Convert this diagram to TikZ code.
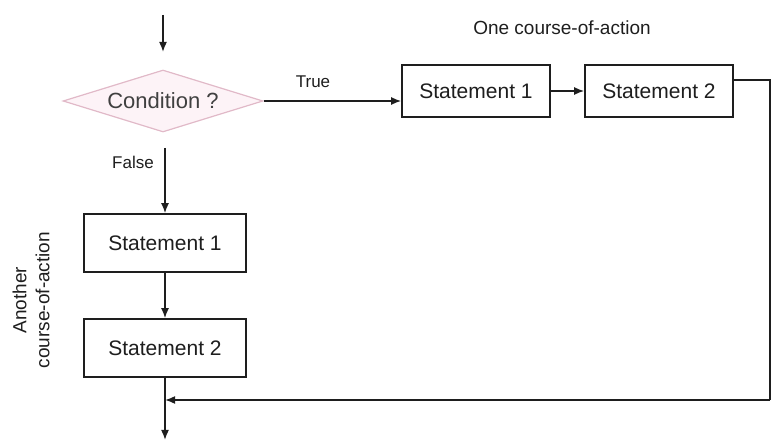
\documentclass[tikz,border=0pt]{standalone}
\usepackage{fontspec}
\setmainfont{Liberation Sans}
\usetikzlibrary{shapes.geometric,arrows.meta,calc}
\definecolor{diaedge}{RGB}{225,185,200}
\definecolor{diafill}{RGB}{253,243,247}
\definecolor{inkc}{RGB}{30,30,30}
\tikzset{
  stmt/.style={draw=inkc, line width=1.6pt, fill=white, font=\fontsize{21}{24}\selectfont, text=inkc, inner sep=0pt},
  cond/.style={diamond, aspect=3.2, draw=diaedge, fill=diafill, line width=1.2pt, inner sep=0pt, minimum width=200pt, minimum height=62pt, font=\fontsize{22}{26}\selectfont, text=inkc!85},
  flow/.style={draw=inkc, line width=1.6pt, -{Latex[length=10pt,width=8pt]}},
  line/.style={draw=inkc, line width=1.6pt},
  lab/.style={font=\fontsize{17}{20}\selectfont, text=inkc, inner sep=0pt},
  grp/.style={font=\fontsize{19}{23}\selectfont, text=inkc, inner sep=0pt, align=center}
}
\begin{document}
\begin{tikzpicture}[x=1pt,y=-1pt]
\useasboundingbox (0,0) rectangle (774,443);
% nodes
\coordinate (start) at (163,15);
\node[cond] (c) at (163,101) {Condition ?};
\node[stmt, minimum width=148pt, minimum height=52pt] (t1) at (476,91) {Statement 1};
\node[stmt, minimum width=148pt, minimum height=52pt] (t2) at (659,91) {Statement 2};
\node[stmt, minimum width=162pt, minimum height=58pt] (f1) at (165,243) {Statement 1};
\node[stmt, minimum width=162pt, minimum height=58pt] (f2) at (165,348) {Statement 2};
\coordinate (cs) at (163,52);
\coordinate (fs) at (165,148);
\coordinate (join) at (165,402);
\coordinate (endp) at (165,440);
\coordinate (rc) at (770,80);
\coordinate (rb) at (770,400);
% labels
\node[lab] (tl) at (313,82) {True};
\node[lab, anchor=east] (fl) at (154,162) {False};
\node[grp] (one) at (562,28) {One course-of-action};
\node[grp, rotate=90] (another) at (31,300) {Another\\course-of-action};
% connectors
\draw[flow] (start) -- (cs);
\draw[flow] (c.east) -- (c.east -| t1.west);
\draw[flow] (t1.east) -- (t2.west);
\draw[flow] (fs) -- (f1.north);
\draw[flow] (f1.south) -- (f2.north);
\draw[flow] (f2.south) -- (endp);
\draw[line] (t2.east |- rc) -- (rc) -- (rb);
\draw[flow] (rb) -- (rb -| join);
\end{tikzpicture}
\end{document}
